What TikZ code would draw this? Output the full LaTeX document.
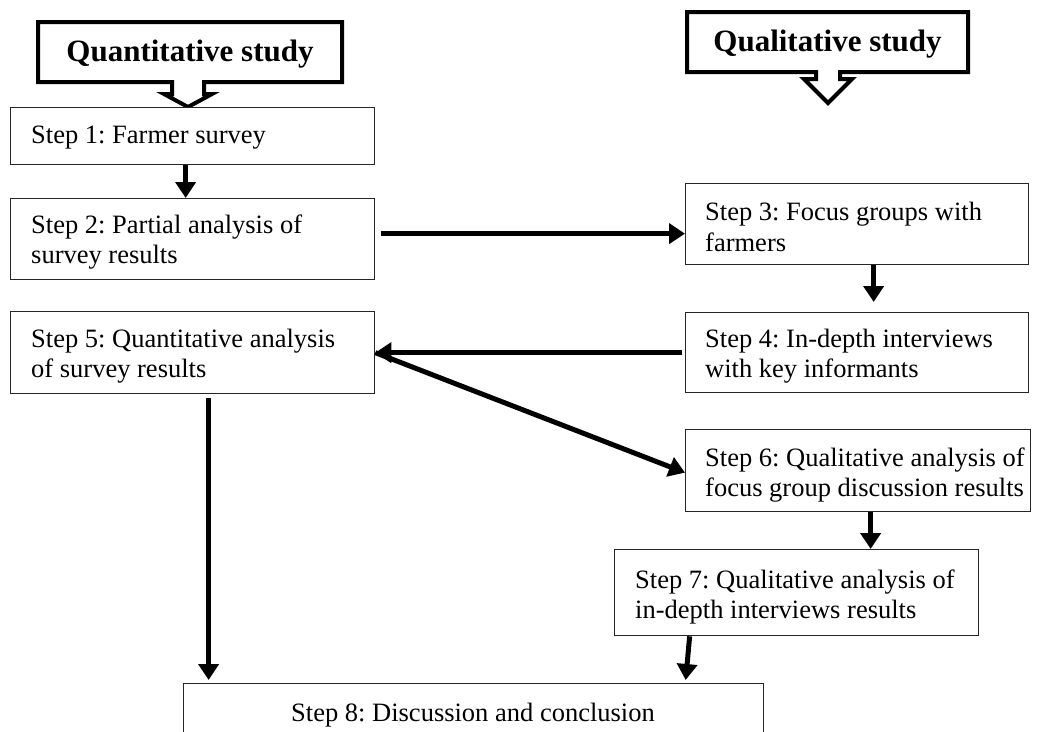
\documentclass[tikz,border=0pt]{standalone}
\usepackage{fontspec}
\setmainfont{Liberation Serif}
\usetikzlibrary{arrows.meta,calc}
\frenchspacing
\begin{document}
\begin{tikzpicture}[x=1pt,y=-1pt,
  box/.style={draw=black!85, line width=1.3pt, fill=white, rectangle, inner sep=0pt, anchor=north west},
  lbl/.style={font=\fontsize{26.5}{30.6}\selectfont, align=left, inner sep=0pt, anchor=west},
  hdrtext/.style={font=\fontsize{31}{36}\selectfont\bfseries, inner sep=0pt},
  callout/.style={draw=black, line width=4pt, fill=white, line join=miter},
  arr/.style={line width=5pt, -{Triangle[length=16pt,width=20pt]}}]
\useasboundingbox (0,0) rectangle (1038,731);
\clip (0,0) rectangle (1038,731);

% header callouts
\draw[callout] (38,22) -- (342,22) -- (342,82) -- (204,82) -- (204,94) -- (212,94) -- (188,107) -- (164,94) -- (172,94) -- (172,82) -- (38,82) -- cycle;
\node[hdrtext] (quant) at (190,54) {\frenchspacing Quantitative study};
\draw[callout] (687,12) -- (968,12) -- (968,72) -- (840,72) -- (840,79) -- (852,79) -- (828,103) -- (804,79) -- (816,79) -- (816,72) -- (687,72) -- cycle;
\node[hdrtext] (qual) at (827.5,44) {Qualitative study};

% boxes
\node[box, minimum width=364, minimum height=57] (s1) at (10,107) {};
\node[box, minimum width=364, minimum height=81] (s2) at (10,198) {};
\node[box, minimum width=364, minimum height=82] (s5) at (10,311) {};
\node[box, minimum width=343, minimum height=81] (s3) at (685,183) {};
\node[box, minimum width=343, minimum height=80] (s4) at (685,312) {};
\node[box, minimum width=345, minimum height=82] (s6) at (685,429) {};
\node[box, minimum width=364, minimum height=86] (s7) at (614,549) {};
\node[box, minimum width=580, minimum height=70] (s8) at (183,683) {};

% labels
\node[lbl, anchor=base west] (t1) at (31,143) {Step 1: Farmer survey};
\node[lbl] (t2) at (31,242) {Step 2: Partial analysis of\\survey results};
\node[lbl] (t3) at (705,227) {Step 3: Focus groups with\\farmers};
\node[lbl] (t4) at (705,356) {Step 4: In-depth interviews\\with key informants};
\node[lbl] (t5) at (31,356) {Step 5: Quantitative analysis\\of survey results};
\node[lbl] (t6) at (705,475) {Step 6: Qualitative analysis of\\focus group discussion results};
\node[lbl] (t7) at (635,597) {Step 7: Qualitative analysis of\\in-depth interviews results};
\node[lbl, anchor=base] (t8) at (473,721) {Step 8: Discussion and conclusion};

% connectors
\draw[arr] ([xshift=-7pt]s1.south) -- ([xshift=-7pt]s2.north);
\draw[arr] ([xshift=6pt,yshift=5.5pt]s2.east) -- ([yshift=-9.5pt]s3.west);
\draw[arr] ([xshift=16.5pt]s3.south) -- ([xshift=16.5pt,yshift=10pt]s4.north);
\draw[arr] ([xshift=-3pt]s4.west) -- (s5.east);
\draw[arr] (s5.east) -- ([yshift=-2pt]s6.west);
\draw[arr] ([xshift=16pt,yshift=-4pt]s5.south) -- ([xshift=-265pt,yshift=3pt]s8.north);
\draw[arr] ([xshift=12.5pt]s6.south) -- ([xshift=74pt]s7.north);
\draw[arr] ([xshift=-107pt]s7.south) -- ([xshift=212pt,yshift=3pt]s8.north);
\end{tikzpicture}
\end{document}
